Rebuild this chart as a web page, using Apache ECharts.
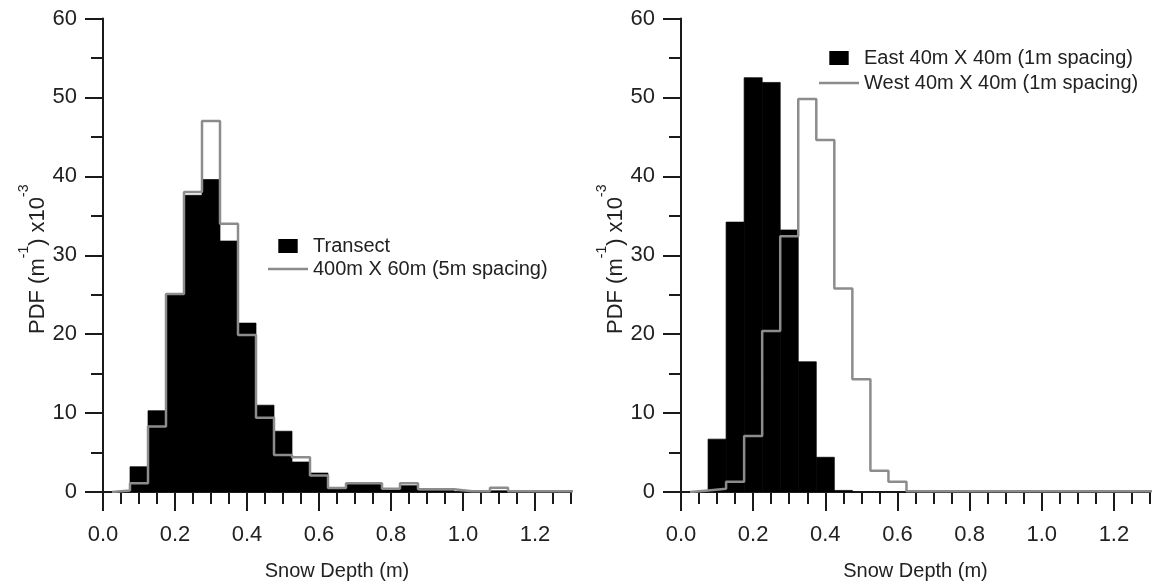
<!DOCTYPE html>
<html>
<head>
<meta charset="utf-8">
<script src="https://cdn.jsdelivr.net/npm/echarts@6/dist/echarts.min.js"></script>
<style>
html,body{margin:0;padding:0;background:#fff;}
#chart{width:1152px;height:586px;}
</style>
</head>
<body>
<div id="chart"></div>
<script>
// Bin centres (m), bin width 0.05 m
const binCenters = [0.05, 0.10, 0.15, 0.20, 0.25, 0.30, 0.35, 0.40, 0.45, 0.50, 0.55, 0.60, 0.65,
                    0.70, 0.75, 0.80, 0.85, 0.90, 0.95, 1.00, 1.05, 1.10, 1.15, 1.20, 1.25, 1.30];
const binWidth = 0.05;

// Left panel
const transect   = [0, 3.2, 10.3, 25.1, 37.6, 39.6, 31.8, 21.4, 11.0, 7.7, 3.8, 2.4, 0.5,
                    1.0, 1.0, 0.4, 0.8, 0.2, 0.2, 0, 0, 0.15, 0, 0, 0, 0];
const survey400  = [0.2, 1.1, 8.3, 25.1, 38.0, 47.0, 34.0, 19.9, 9.4, 4.7, 4.4, 2.1, 0.5,
                    1.1, 1.1, 0.4, 1.1, 0.35, 0.35, 0.1, 0.1, 0.55, 0.1, 0.1, 0.1, 0.1];

// Right panel
const eastGrid   = [0, 6.7, 34.2, 52.5, 51.9, 33.2, 16.5, 4.4, 0.2, 0, 0, 0, 0,
                    0, 0, 0, 0, 0, 0, 0, 0, 0, 0, 0, 0, 0];
const westGrid   = [0.2, 0.4, 1.3, 7.1, 20.4, 32.4, 49.8, 44.6, 25.8, 14.3, 2.7, 1.3, 0.1,
                    0.1, 0.1, 0.1, 0.1, 0.1, 0.1, 0.1, 0.1, 0.1, 0.1, 0.1, 0.1, 0.1];

const xTicks = [0.0, 0.2, 0.4, 0.6, 0.8, 1.0, 1.2];
const yTicks = [0, 10, 20, 30, 40, 50, 60];

const names = {
  transect: 'Transect',
  survey400: '400m X 60m (5m spacing)',
  east: 'East 40m X 40m (1m spacing)',
  west: 'West 40m X 40m (1m spacing)'
};

const FONT = 'Liberation Sans, Arial, sans-serif';
const TXT = '#222';
const AX = '#1a1a1a';
const GRAY = '#8c8c8c';

function barData(vals) { return vals.map((v, i) => [binCenters[i], v]); }
function stepData(vals) {
  const pts = [[binCenters[0] - binWidth / 2, 0]];
  vals.forEach((v, i) => {
    pts.push([binCenters[i] - binWidth / 2, v]);
    pts.push([binCenters[i] + binWidth / 2, v]);
  });
  return pts;
}

function renderBar(params, api) {
  const c = api.value(0), v = api.value(1);
  if (!v) return null;
  const p0 = api.coord([c - binWidth / 2, v]);
  const p1 = api.coord([c + binWidth / 2, 0]);
  return {
    type: 'rect',
    shape: { x: p0[0], y: p0[1], width: p1[0] - p0[0], height: p1[1] - p0[1] },
    style: { fill: api.visual('color'), stroke: api.visual('color'), lineWidth: 0.7 }
  };
}

const xMin = 0, xMax = 1.3;

function majorX(grid) {
  return {
    type: 'value', gridIndex: grid, min: xMin, max: xMax, interval: 0.2,
    name: 'Snow Depth (m)', nameLocation: 'middle', nameGap: 69,
    nameTextStyle: { fontFamily: FONT, fontSize: 20, color: TXT },
    axisLine: { show: true, onZero: false, lineStyle: { color: AX, width: 2 } },
    axisTick: { show: true, inside: false, length: 19, lineStyle: { color: AX, width: 2 } },
    axisLabel: { show: true, margin: 32, fontFamily: FONT, fontSize: 22, color: TXT,
                 showMaxLabel: false,
                 formatter: v => (xTicks.indexOf(Math.round(v * 10) / 10) >= 0 ? v.toFixed(1) : '') },
    splitLine: { show: false }
  };
}
function minorX(grid) {
  return {
    type: 'value', gridIndex: grid, min: xMin, max: xMax, interval: 0.05,
    position: 'bottom',
    axisLine: { show: false, onZero: false },
    axisTick: { show: true, inside: false, length: 12, lineStyle: { color: AX, width: 2 } },
    axisLabel: { show: false },
    splitLine: { show: false }
  };
}
const yName = '{m|PDF (m}{sup|-1}{m|) x10}{sup|-3}';
function yAxis(grid) {
  return {
    type: 'value', gridIndex: grid, min: 0, max: 60, interval: 10,
    name: yName, nameLocation: 'middle', nameGap: 52, nameRotate: 90,
    nameTextStyle: {
      fontFamily: FONT, fontSize: 22, color: TXT, padding: [0, 8, 0, 0],
      rich: {
        m: { fontFamily: FONT, fontSize: 22, color: TXT, lineHeight: 22,
             padding: [9, 0, 0, 0], verticalAlign: 'top' },
        sup: { fontFamily: FONT, fontSize: 14, color: TXT, lineHeight: 14, verticalAlign: 'top' }
      }
    },
    axisLine: { show: true, onZero: false, lineStyle: { color: AX, width: 2 } },
    axisTick: { show: true, inside: false, length: 18, lineStyle: { color: AX, width: 2 } },
    minorTick: { show: true, splitNumber: 2, length: 12, lineStyle: { color: AX, width: 2 } },
    axisLabel: { show: true, margin: 26, fontFamily: FONT, fontSize: 22, color: TXT,
                 formatter: v => (yTicks.indexOf(v) >= 0 ? String(v) : '') },
    splitLine: { show: false }, minorSplitLine: { show: false }
  };
}

const squareIcon = 'path://M0,0L18,0L18,13L0,13Z';
const lineIcon = 'path://M0,0L40,0L40,2.6L0,2.6Z';

function legend(left, top, gap, textGap, n1, n2) {
  return {
    orient: 'vertical', left: left, top: top, itemWidth: 40, itemHeight: 14,
    itemGap: gap, itemTextGap: textGap, selectedMode: false,
    textStyle: { fontFamily: FONT, fontSize: 20, color: TXT, lineHeight: 22 },
    data: [{ name: n1, icon: squareIcon }, { name: n2, icon: lineIcon }]
  };
}

const option = {
  animation: false,
  backgroundColor: '#fff',
  grid: [
    { left: 103, right: 1152 - 571, top: 18.5, bottom: 586 - 494, containLabel: false },
    { left: 681, right: 2, top: 18.5, bottom: 586 - 494, containLabel: false }
  ],
  xAxis: [majorX(0), minorX(0), majorX(1), minorX(1)],
  yAxis: [yAxis(0), yAxis(1)],
  legend: [
    legend(263, 230, 1, 8, names.transect, names.survey400),
    legend(814, 42, 3, 10, names.east, names.west)
  ],
  series: [
    { name: names.transect, type: 'custom', xAxisIndex: 0, yAxisIndex: 0,
      renderItem: renderBar, itemStyle: { color: '#000' }, clip: true,
      encode: { x: 0, y: 1 }, data: barData(transect), z: 2 },
    { name: names.survey400, type: 'line', xAxisIndex: 0, yAxisIndex: 0,
      data: stepData(survey400), symbol: 'none', showSymbol: false, clip: true,
      color: GRAY, lineStyle: { color: GRAY, width: 2.5 }, z: 3 },
    { name: names.east, type: 'custom', xAxisIndex: 2, yAxisIndex: 1,
      renderItem: renderBar, itemStyle: { color: '#000' }, clip: true,
      encode: { x: 0, y: 1 }, data: barData(eastGrid), z: 2 },
    { name: names.west, type: 'line', xAxisIndex: 2, yAxisIndex: 1,
      data: stepData(westGrid), symbol: 'none', showSymbol: false, clip: true,
      color: GRAY, lineStyle: { color: GRAY, width: 2.5 }, z: 3 }
  ]
};

const chart = echarts.init(document.getElementById('chart'), null, { renderer: 'canvas' });
chart.setOption(option);
</script>
</body>
</html>
